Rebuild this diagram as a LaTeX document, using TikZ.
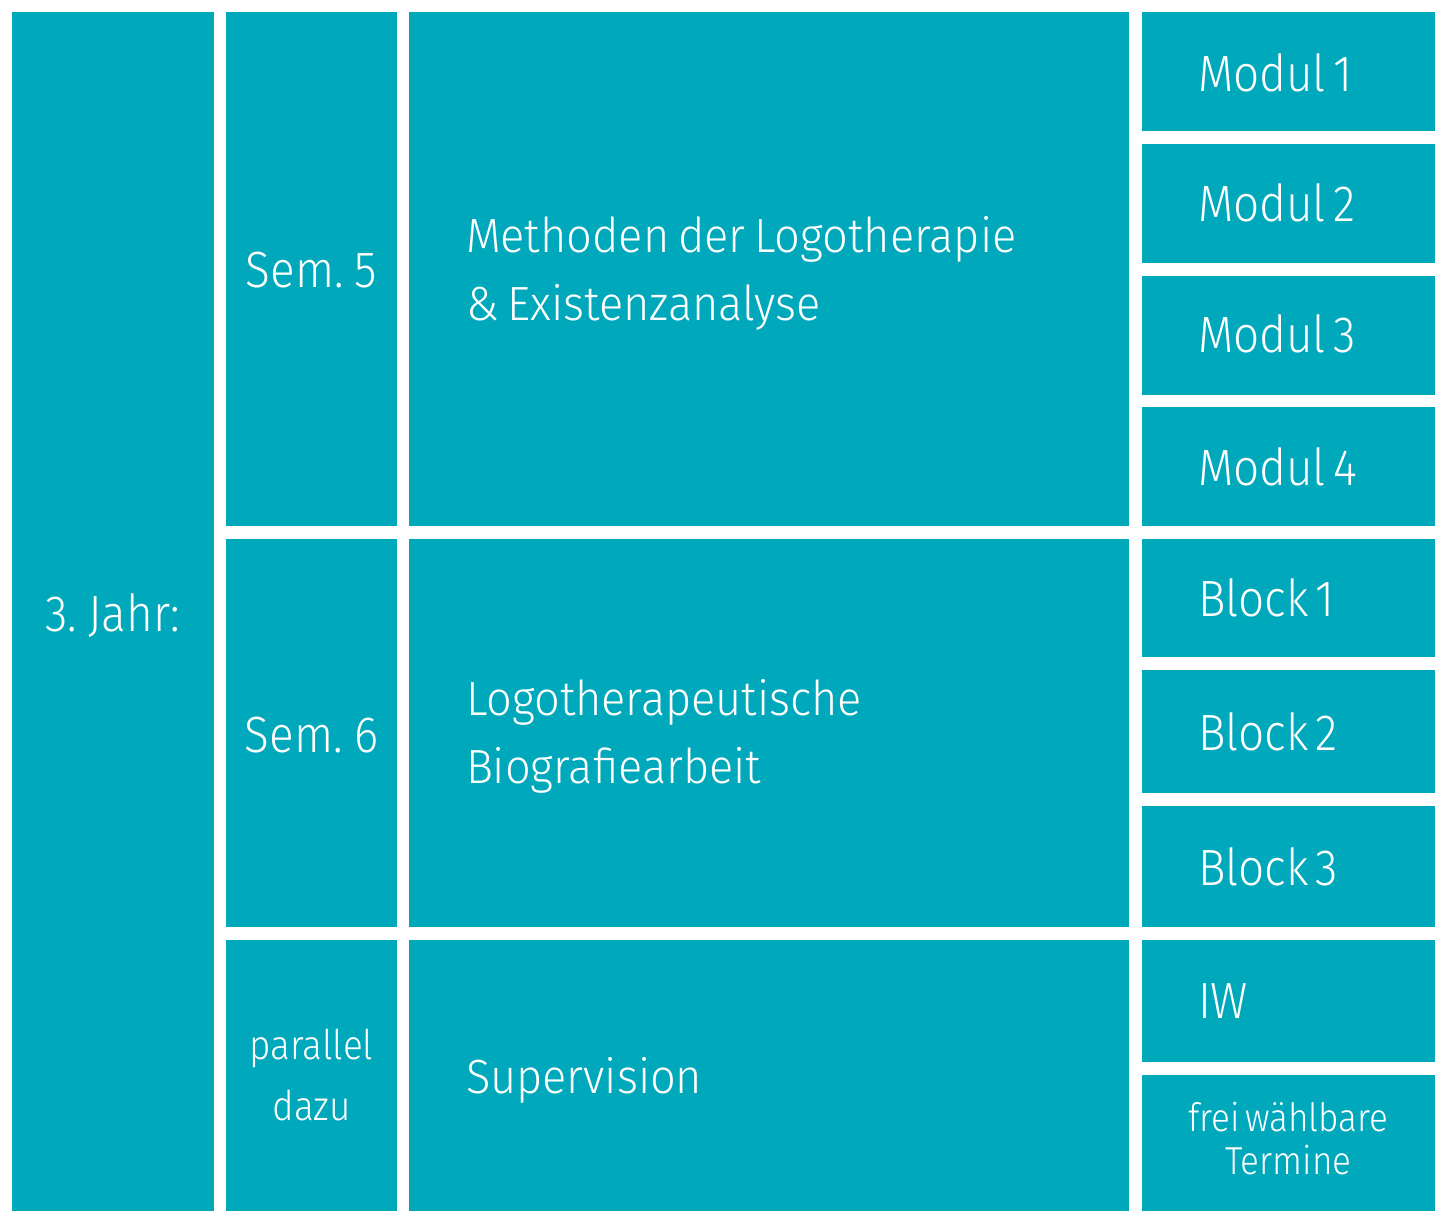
\documentclass[tikz,border=0pt]{standalone}
\usepackage{fontspec}
\setmainfont{Fira Sans}[UprightFont=* Light, FakeStretch=0.9, WordSpace=0.55]
\newfontfamily\widefont{Fira Sans}[UprightFont=* Light, FakeStretch=0.94, WordSpace=0.7]
\definecolor{teal}{RGB}{0,168,188}
\tikzset{
  box/.style={rectangle, fill=teal, draw=none, inner sep=0pt, outer sep=0pt, anchor=north west},
  lbl/.style={text=white, inner sep=0pt, outer sep=0pt},
  big/.style={lbl, font=\widefont\fontsize{48}{58}\selectfont},
  mid/.style={lbl, font=\fontsize{51}{60}\selectfont},
  small/.style={lbl, font=\fontsize{41}{48}\selectfont},
  smaller/.style={lbl, font=\fontsize{39}{46}\selectfont},
}
\newcommand{\bx}[5]{\node[box, minimum width=#4-#2, minimum height=#5-#3] (#1) at (#2,#3) {};}
\begin{document}
\begin{tikzpicture}[x=1pt,y=-1pt]
\useasboundingbox (0,0) rectangle (1448,1224);
% column 1
\bx{jahr}{12}{12}{214}{1211}
% column 2
\bx{sem5}{226}{12}{397}{526}
\bx{sem6}{226}{539}{397}{927}
\bx{par}{226}{940}{397}{1211}
% column 3
\bx{meth}{409}{12}{1129}{526}
\bx{bio}{409}{539}{1129}{927}
\bx{sup}{409}{940}{1129}{1211}
% column 4
\bx{m1}{1142}{12}{1435}{131}
\bx{m2}{1142}{144}{1435}{263}
\bx{m3}{1142}{276}{1435}{395}
\bx{m4}{1142}{407}{1435}{526}
\bx{b1}{1142}{539}{1435}{657}
\bx{b2}{1142}{670}{1435}{793}
\bx{b3}{1142}{806}{1435}{927}
\bx{iw}{1142}{940}{1435}{1062}
\bx{frei}{1142}{1075}{1435}{1211}
% labels
\node[mid, anchor=base] (tjahr) at (113,631) {3. Jahr:};
\node[mid, anchor=base] (tsem5) at (311.5,287) {Sem. 5};
\node[mid, anchor=base] (tsem6) at (311.5,752) {Sem. 6};
\node[small, anchor=base] (tpar1) at (311.5,1059) {parallel};
\node[small, anchor=base] (tpar2) at (311.5,1120) {dazu};
\node[big, anchor=base west] (tmeth1) at (466,252) {Methoden der Logotherapie};
\node[big, anchor=base west] (tmeth2) at (466,320) {\& Existenzanalyse};
\node[big, anchor=base west] (tbio1) at (466,715) {Logotherapeutische};
\node[big, anchor=base west] (tbio2) at (466,783) {Biografiearbeit};
\node[big, anchor=base west] (tsup) at (466,1093) {Supervision};
\node[mid, anchor=base west] (tm1) at (1198,91) {Modul 1};
\node[mid, anchor=base west] (tm2) at (1198,221) {Modul 2};
\node[mid, anchor=base west] (tm3) at (1198,352) {Modul 3};
\node[mid, anchor=base west] (tm4) at (1198,485) {Modul 4};
\node[mid, anchor=base west] (tb1) at (1198,616) {Block 1};
\node[mid, anchor=base west] (tb2) at (1198,750) {Block 2};
\node[mid, anchor=base west] (tb3) at (1198,885) {Block 3};
\node[mid, anchor=base west] (tiw) at (1198,1018) {IW};
\node[smaller, anchor=base] (tfrei1) at (1288.5,1131) {frei wählbare};
\node[smaller, anchor=base] (tfrei2) at (1288.5,1174) {Termine};
\end{tikzpicture}
\end{document}
